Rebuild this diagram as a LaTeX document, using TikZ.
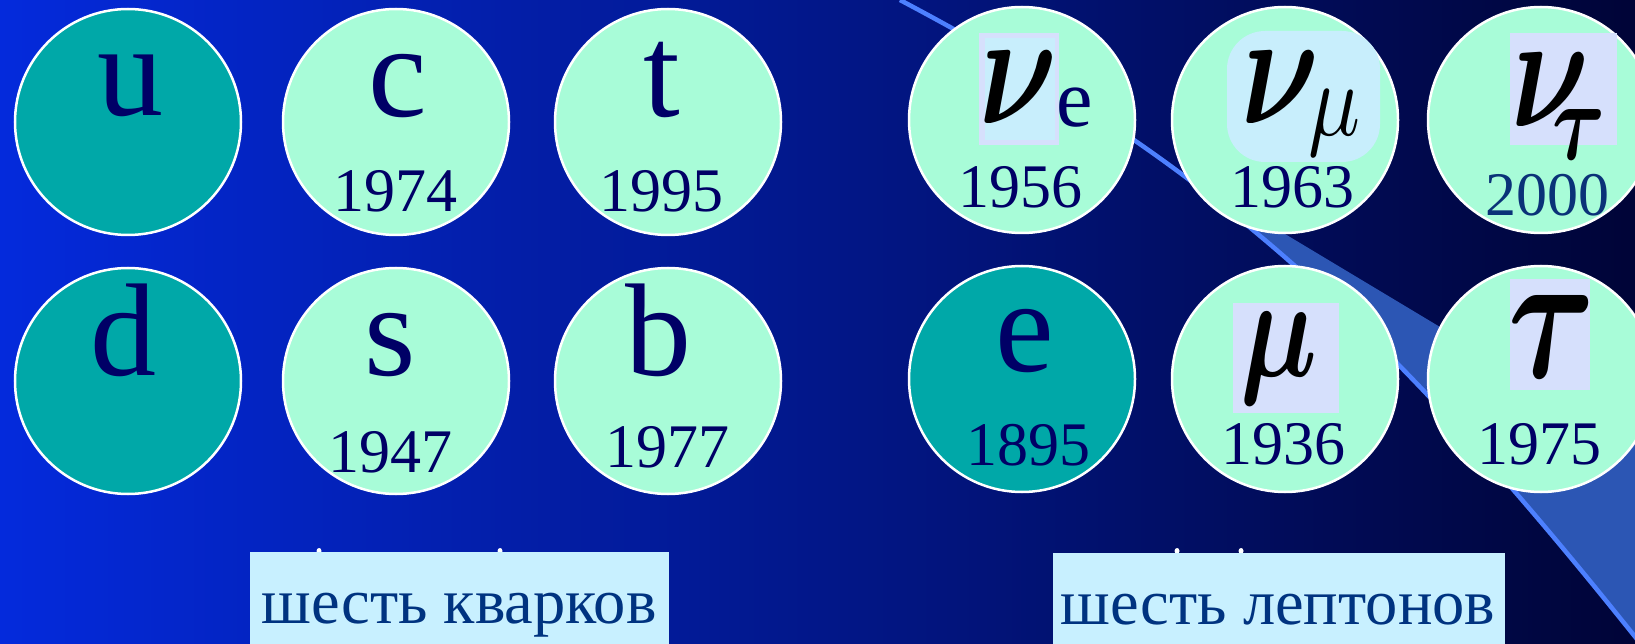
\documentclass[tikz,border=0pt]{standalone}
\usepackage{fontspec}
\setmainfont{Liberation Serif}
\usepackage{graphicx}

\definecolor{bgleft}{RGB}{4,42,220}
\definecolor{bgmid}{RGB}{2,24,150}
\definecolor{bgright}{RGB}{0,4,55}
\definecolor{mint}{RGB}{168,252,216}
\definecolor{tealq}{RGB}{0,168,168}
\definecolor{navy}{RGB}{0,0,102}
\definecolor{navyyear}{RGB}{10,50,120}
\definecolor{boxtext}{RGB}{0,51,128}
\definecolor{boxfill}{RGB}{200,240,255}
\definecolor{lavender}{RGB}{214,224,252}
\definecolor{palecyan}{RGB}{200,238,252}
\definecolor{streak}{RGB}{77,128,255}
\definecolor{wedge}{RGB}{44,86,180}

\tikzset{
  particle/.style={circle, draw=white, line width=2.5pt, fill=mint,
    minimum size=226pt, inner sep=0pt},
  firstgen/.style={particle, fill=tealq},
  flavour/.style={font=\fontsize{132}{132}\selectfont, text=navy, anchor=base, inner sep=0pt},
  year/.style={font=\fontsize{62}{62}\selectfont, text=navy, anchor=base, inner sep=0pt},
  greek/.style={inner sep=0pt, text=black},
  caption/.style={font=\fontsize{64.5}{64.5}\selectfont, text=boxtext, anchor=base, inner sep=0pt},
}

\begin{document}
\begin{tikzpicture}[x=1pt, y=-1pt]

  \useasboundingbox (0,0) rectangle (1635,644);
  \clip (0,0) rectangle (1635,644);

  % background
  \shade[left color=bgleft, middle color=bgmid, right color=bgright] (0,0) rectangle (1635,644);

  % diagonal streak
  \begin{scope}
    \clip (900,0) .. controls (1200,159) and (1370,304) .. (1640,643)
      -- (1700,700) -- (1700,-20) -- (900,-20) -- cycle;
    \fill[wedge] (800,-57) -- (1700,483) -- (1700,700) -- (800,700) -- cycle;
  \end{scope}
  \draw[streak, line width=4.5pt] (900,0) .. controls (1200,159) and (1370,304) .. (1640,643);

  % quarks
  \foreach \n/\x/\y in {u/128/122, d/128/381}
    \node[firstgen] (\n) at (\x,\y) {};
  \foreach \n/\x/\y in {c/396/122, t/668/122, s/396/381, b/668/381}
    \node[particle] (\n) at (\x,\y) {};

  % leptons
  \node[firstgen] (e) at (1022,379) {};
  \foreach \n/\x/\y in {nue/1022/120, numu/1285/120, nutau/1541/120, mu/1285/379, tau/1541/379}
    \node[particle] (\n) at (\x,\y) {};

  % highlight boxes behind the greek letters
  \fill[lavender] (979,33) rectangle (1059,145);
  \fill[palecyan] (985,38) rectangle (1055,140);
  \fill[palecyan, rounded corners=38pt] (1227,31) rectangle (1380,162);
  \fill[lavender] (1510,33) rectangle (1617,145);
  \fill[lavender] (1233,303) rectangle (1339,413);
  \fill[lavender] (1510,279) rectangle (1590,390);

  % flavour letters
  \foreach \n/\x/\y/\l in {u/130/116/u, c/398/117/c, t/662/117/t,
                          d/123/375/d, s/390/375/s, b/658/375/b, e/1025/371/e}
    \node[flavour] (\n-sym) at (\x,\y) {\l};

  % neutrinos and heavy leptons
  \node[greek, anchor=base west] (nue-sym) at (979,124) {\resizebox{78pt}{72pt}{\boldmath$\nu$}};
  \node[flavour, anchor=base west, font=\fontsize{82}{82}\selectfont] (nue-sub) at (1056,127) {e};
  \node[greek, anchor=base west] (numu-sym) at (1241,124) {\resizebox{78pt}{72pt}{\boldmath$\nu$}};
  \node[greek, anchor=north west] (numu-sub) at (1308,90) {\resizebox*{52pt}{66pt}{$\mu$}};
  \node[greek, anchor=base west] (nutau-sym) at (1511,127) {\resizebox{78pt}{73pt}{\boldmath$\nu$}};
  \node[greek, anchor=base west] (nutau-sub) at (1552,160) {\resizebox{53pt}{50pt}{\boldmath$\tau$}};
  \node[greek, anchor=north west] (mu-sym) at (1240,312) {\resizebox*{77pt}{92pt}{\boldmath$\mu$}};
  \node[greek, anchor=base west] (tau-sym) at (1508,377) {\resizebox{87pt}{82pt}{\boldmath$\tau$}};

  % discovery years
  \foreach \n/\x/\y/\l in {c/395/212/1974, t/661/212/1995, s/390/472/1947, b/667/467/1977,
                          nue/1020/208/1956, numu/1292/208/1963,
                          e/1028/465/1895, mu/1283/464/1936, tau/1539/464/1975}
    \node[year] (\n-year) at (\x,\y) {\l};
  \node[year, text=navyyear] (nutau-year) at (1547,216) {2000};

  % tips of hidden text
  \foreach \x in {319, 500, 1177, 1241}
    \fill[white] (\x,551) ellipse (2.5pt and 3pt);

  % captions
  \fill[boxfill] (250,552) rectangle (669,650);
  \fill[boxfill] (1053,553) rectangle (1505,650);
  \node[caption] (quarks) at (459,623) {шесть кварков};
  \node[caption] (leptons) at (1278,624) {шесть лептонов};

\end{tikzpicture}
\end{document}
